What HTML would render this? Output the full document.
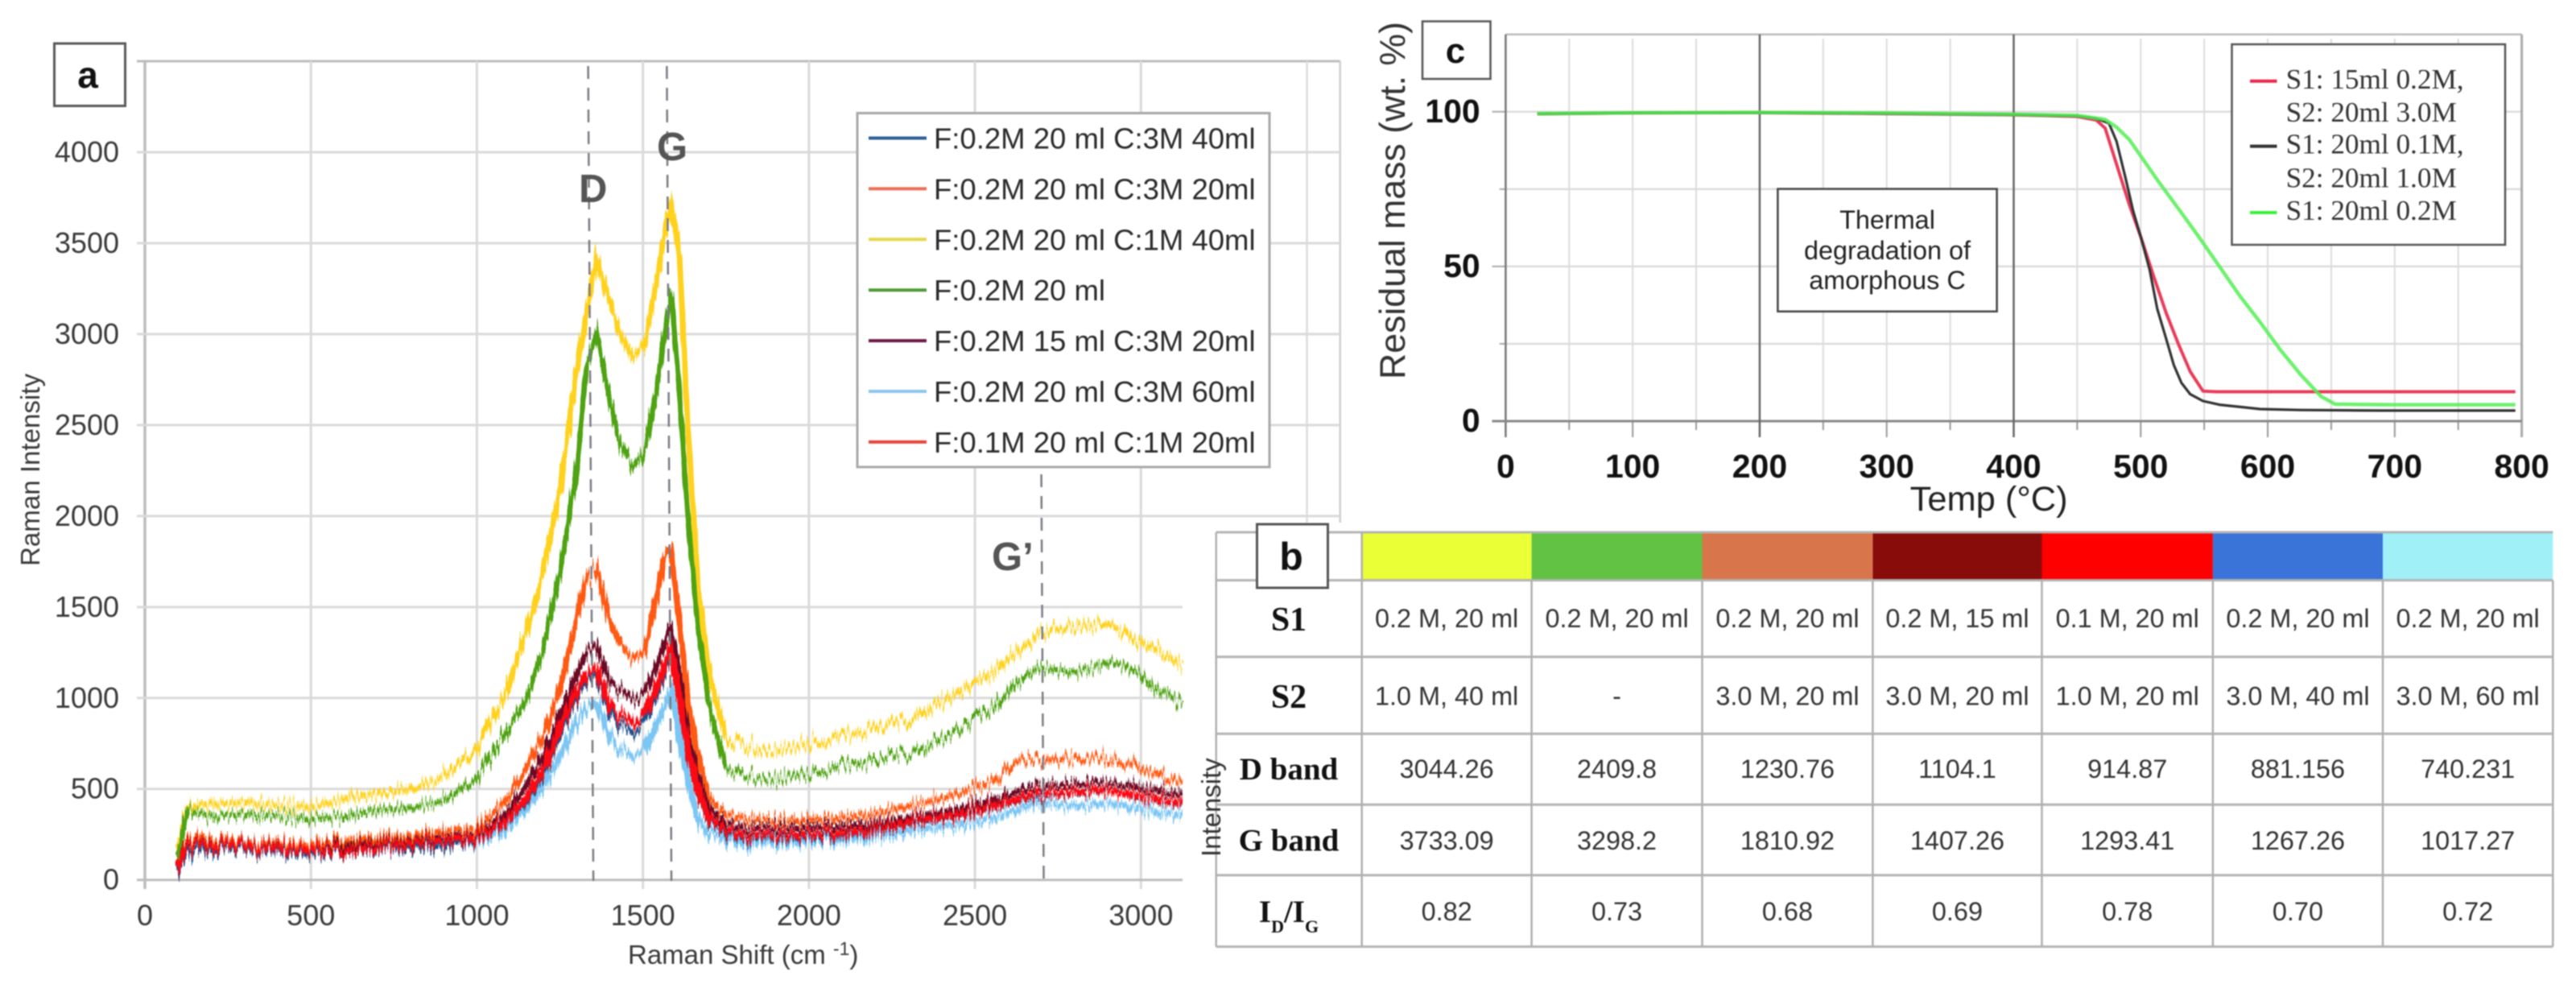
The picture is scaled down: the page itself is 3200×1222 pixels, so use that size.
<!DOCTYPE html>
<html lang="en">
<head>
<meta charset="utf-8">
<title>Raman spectra, band table and TGA curves</title>
<style>
  html, body { margin: 0; padding: 0; background: #fff; }
  body { width: 3200px; height: 1222px; overflow: hidden; }
  #figure { display: block; filter: blur(0.8px); }
  text { font-family: "Liberation Sans", Arial, sans-serif; }
  .serif { font-family: "Liberation Serif", "Times New Roman", serif; }
</style>
</head>
<body>
<svg id="figure" xmlns="http://www.w3.org/2000/svg" width="3200" height="1222" viewBox="0 0 3200 1222">
  <defs>
    <filter id="raman-noise" filterUnits="userSpaceOnUse" x="100" y="60" width="1450" height="1060" color-interpolation-filters="sRGB">
      <feTurbulence type="fractalNoise" baseFrequency="0.42 0.006" numOctaves="2" seed="7" result="n"/>
      <feColorMatrix in="n" type="matrix" values="0 0 0 0 0.5  0 1 0 0 0  0 0 1 0 0  0 0 0 0 1" result="vn"/>
      <feDisplacementMap in="SourceGraphic" in2="vn" scale="40" xChannelSelector="R" yChannelSelector="G"/>
    </filter>
  </defs>
  <rect width="3200" height="1222" fill="#fff"/>
  <g id="panel-a"></g>
  <g id="panel-c"></g>
  <g id="panel-b"></g>
</svg>
<script>
/* ---------- Panel a: Raman spectra ---------- */
const ramanShift = [100,115,130,160,200,300,400,500,600,700,800,900,1000,1085,1150,1200,1250,1300,1330,1360,1400,1430,1470,1505,1540,1565,1585,1610,1635,1665,1700,1750,1800,1900,2035,2185,2310,2430,2555,2620,2690,2740,2800,2865,2900,2940,2990,3050,3125];
const intensityLightBlue = [65,130,170,190,205,215,185,165,175,190,195,190,215,270,395,510,680,870,950,980,790,725,690,700,860,960,1040,780,550,335,260,215,205,200,220,235,265,295,340,380,425,415,405,415,420,410,395,375,355];
const intensityDarkBlue = [50,120,150,160,165,175,150,145,155,170,170,170,225,310,430,570,800,1000,1100,1120,920,860,810,860,1020,1130,1240,970,690,470,320,250,235,230,240,265,305,340,395,430,460,470,475,485,490,475,450,435,415];
const intensityOrange = [90,170,220,235,225,210,200,195,225,235,240,260,285,430,615,790,1050,1430,1650,1710,1420,1300,1215,1255,1530,1785,1820,1420,1000,660,445,360,340,325,335,360,410,460,540,645,660,665,670,680,670,650,615,575,535];
const intensityYellow = [170,300,400,410,415,425,410,400,445,470,495,570,715,1010,1380,1700,2140,2800,3130,3410,3180,3030,2880,2950,3270,3560,3720,3440,2500,1650,1130,780,735,710,760,820,890,1010,1140,1245,1345,1375,1385,1405,1400,1375,1305,1260,1180];
const intensityGreen = [130,280,385,365,350,360,350,335,350,385,395,435,555,800,1000,1270,1680,2250,2830,3000,2640,2400,2270,2360,2680,3000,3230,2680,2000,1420,950,620,575,550,597,650,700,805,940,1075,1165,1155,1140,1170,1195,1185,1140,1045,975];
const intensityMaroon = [70,170,200,205,200,195,180,170,195,205,210,225,250,360,520,680,905,1130,1250,1290,1090,1050,990,1030,1170,1290,1380,1130,800,545,390,310,290,285,295,310,345,380,440,480,520,525,530,540,540,525,505,490,470];
const intensityRed = [75,160,190,195,190,195,170,170,165,185,195,205,235,320,450,600,840,1040,1130,1160,960,910,865,905,1060,1170,1260,1000,720,490,340,270,250,245,255,275,320,350,405,440,475,480,485,495,495,480,460,445,425];
const ramanXTicks = [0,500,1000,1500,2000,2500,3000];
const ramanYTicks = [0,500,1000,1500,2000,2500,3000,3500,4000];
const ramanLegendLabels = ["F:0.2M 20 ml C:3M 40ml","F:0.2M 20 ml C:3M 20ml","F:0.2M 20 ml C:1M 40ml","F:0.2M 20 ml","F:0.2M 15 ml C:3M 20ml","F:0.2M 20 ml C:3M 60ml","F:0.1M 20 ml C:1M 20ml"];
const ramanPeaks = [1335,1572,2700];

/* ---------- Panel c: TGA curves ---------- */
const tempRed = [25,100,200,300,400,450,465,472,481,491,500,510,520,530,539,549,560,650,795];
const massRed = [99.3,99.6,99.7,99.4,99,98.5,97.3,94.7,83,70,59.6,47,35,24.6,16,9.7,9.5,9.5,9.5];
const tempBlack = [25,100,200,300,400,450,465,475,481,488,494,500,507,513,520,526,532,539,549,562,594,626,690,795];
const massBlack = [99.3,99.6,99.7,99.4,99,98.6,97.8,96.3,90.4,78.7,68,59.6,49,36.3,26.7,18.2,12.4,8.7,6.5,5.3,3.9,3.6,3.4,3.4];
const tempGreen = [25,100,200,300,400,450,472,481,491,500,513,530,545,562,578,594,610,626,642,653,700,795];
const massGreen = [99.4,99.7,99.8,99.6,99.2,98.8,97.5,95,91,85.7,78,68.5,60,50,40.5,32,23,15,8,5.5,5.3,5.3];
const tempMajorTicks = [0,100,200,300,400,500,600,700,800];
const tempMinorTicks = [50,150,250,350,450,550,650,750];
const massMajorTicks = [0,50,100];
const massMinorTicks = [25,75];
const tgaLegendLines = ["S1: 15ml 0.2M,","S2: 20ml 3.0M","S1: 20ml 0.1M,","S2: 20ml 1.0M","S1: 20ml 0.2M"];

/* ---------- Panel b: band table ---------- */
const tableRowHeads = ["S1","S2","D band","G band"];
const tableS1 = ["0.2 M, 20 ml","0.2 M, 20 ml","0.2 M, 20 ml","0.2 M, 15 ml","0.1 M, 20 ml","0.2 M, 20 ml","0.2 M, 20 ml"];
const tableS2 = ["1.0 M, 40 ml","-","3.0 M, 20 ml","3.0 M, 20 ml","1.0 M, 20 ml","3.0 M, 40 ml","3.0 M, 60 ml"];
const tableDBand = ["3044.26","2409.8","1230.76","1104.1","914.87","881.156","740.231"];
const tableGBand = ["3733.09","3298.2","1810.92","1407.26","1293.41","1267.26","1017.27"];
const tableRatio = ["0.82","0.73","0.68","0.69","0.78","0.70","0.72"];
const tableSwatches = ["#eaff36","#62c244","#d9754a","#870c0a","#fe0000","#3a74d8","#a0f0f8"];

/* ---------- helpers ---------- */
const NS = "http://www.w3.org/2000/svg";
function mk(parent, tag, name, attrs, content) {
  const el = document.createElementNS(NS, tag);
  
  
  for (const k in attrs) el.setAttribute(k, attrs[k]);
  if (content !== undefined) el.textContent = content;
  parent.appendChild(el);
  return el;
}
function line(p, name, x1, y1, x2, y2, stroke, w, dash) {
  const a = {x1:x1, y1:y1, x2:x2, y2:y2, stroke:stroke, 'stroke-width':w};
  if (dash) a['stroke-dasharray'] = dash;
  return mk(p, 'line', name, a);
}
function polyPath(xs, ys, fx, fy) {
  return xs.map((v, i) => (i ? 'L' : 'M') + fx(v).toFixed(1) + ' ' + fy(ys[i]).toFixed(1)).join(' ');
}
function scale(d0, d1, r0, r1) { return v => r0 + (v - d0) * (r1 - r0) / (d1 - d0); }

/* ---------- draw panel a ---------- */
(function () {
  const g = document.getElementById('panel-a');
  const x = scale(0, 3000, 180, 1417.3);
  const y = scale(0, 4000, 1092.7, 189);
  const topY = y(4500), rightFull = x(3600), rightLow = 1469;

  mk(g, 'line', 'plot-top-border', {x1:170, y1:topY, x2:rightFull, y2:topY, stroke:'#bcbcbc', 'stroke-width':3});
  line(g, 'x-grid-3500', x(3500), topY, x(3500), 649, '#dcdcdc', 2.5);
  line(g, 'x-grid-3600', x(3600), topY, x(3600), 649, '#cfcfcf', 2.5);

  ramanXTicks.forEach(t => {
    line(g, 'x-grid-' + t, x(t), topY, x(t), 1104, t === 0 ? '#bdbdbd' : '#dadada', t === 0 ? 3.5 : 3);
    mk(g, 'text', 'x-tick-label-' + t, {x:x(t), y:1149, 'text-anchor':'middle', 'font-size':36, fill:'#3a3a3a'}, String(t));
  });
  ramanYTicks.forEach(t => {
    const right = t >= 2000 ? rightFull : rightLow;
    line(g, 'y-grid-' + t, 170, y(t), right, y(t), t === 0 ? '#bdbdbd' : '#dadada', 3);
    mk(g, 'text', 'y-tick-label-' + t, {x:148, y:y(t) + 12, 'text-anchor':'end', 'font-size':36, fill:'#3a3a3a'}, String(t));
  });

  const noise = mk(g, 'g', 'raman-series', {filter:'url(#raman-noise)', fill:'none', 'stroke-linejoin':'miter', 'stroke-miterlimit':6});
  const ramanSeries = [
    ['series-light-blue', intensityLightBlue, '#7cc6f4', 8],
    ['series-dark-blue', intensityDarkBlue, '#1f4e8c', 6],
    ['series-orange', intensityOrange, '#ff5a14', 7],
    ['series-yellow', intensityYellow, '#ffd21f', 7],
    ['series-green', intensityGreen, '#4fa313', 6.5],
    ['series-maroon', intensityMaroon, '#6b0a24', 7],
    ['series-red', intensityRed, '#fb0a14', 8.5]
  ];
  ramanSeries.forEach(s => {
    mk(noise, 'path', s[0], {d:polyPath(ramanShift, s[1], x, y), stroke:s[2], 'stroke-width':s[3]});
  });

  const dashTop = [82, 82, 589];
  const dashBottom = [1094, 1094, 1094];
  const dashDrift = [6.5, 5.7, 3];
  ramanPeaks.forEach((p, i) => {
    line(g, 'peak-guide-' + i, x(p), dashTop[i], x(p) + dashDrift[i], dashBottom[i], '#7b7b85', 2.5, '16 11');
  });
  mk(g, 'text', 'peak-label-d', {x:719, y:251, 'font-size':49, 'font-weight':700, fill:'#555'}, 'D');
  mk(g, 'text', 'peak-label-g', {x:816, y:199, 'font-size':49, 'font-weight':700, fill:'#555'}, 'G');
  mk(g, 'text', 'peak-label-g-prime', {x:1232, y:708, 'font-size':49, 'font-weight':700, fill:'#555'}, 'G\u2019');

  mk(g, 'rect', 'raman-legend-box', {x:1065, y:140.5, width:512, height:439.5, fill:'#fff', stroke:'#a8a8a8', 'stroke-width':3});
  const legendColors = ['#2d5f95','#e8705a','#e6d84a','#4f9a35','#6a1b45','#8cc6ea','#e8443a'];
  ramanLegendLabels.forEach((lab, i) => {
    const ly = 171.5 + i * 62.9;
    line(g, 'raman-legend-swatch-' + i, 1079, ly, 1151, ly, legendColors[i], 4);
    const a = {x:1160, y:ly + 13, 'font-size':36.5, fill:'#2a2a2a'};
    mk(g, 'text', 'raman-legend-label-' + i, a, lab);
  });

  mk(g, 'rect', 'panel-a-tag-box', {x:67.5, y:54, width:88, height:77.5, fill:'#fff', stroke:'#5a5a5a', 'stroke-width':3});
  mk(g, 'text', 'panel-a-tag', {x:109, y:109, 'text-anchor':'middle', 'font-size':46, 'font-weight':700, fill:'#111'}, 'a');

  mk(g, 'text', 'y-axis-title', {transform:'translate(49,703) rotate(-90)', 'font-size':33, textLength:239, lengthAdjust:'spacingAndGlyphs', fill:'#3a3a3a'}, 'Raman Intensity');
  const xt = mk(g, 'text', 'x-axis-title', {x:780, y:1197, 'font-size':33, fill:'#3a3a3a'}, 'Raman Shift (cm ');
  const sup = document.createElementNS(NS, 'tspan');
  sup.setAttribute('font-size', '23');
  sup.setAttribute('dy', '-11');
  sup.textContent = '-1';
  xt.appendChild(sup);
  const close = document.createElementNS(NS, 'tspan');
  close.setAttribute('dy', '11');
  close.textContent = ')';
  xt.appendChild(close);
})();

/* ---------- draw panel c ---------- */
(function () {
  const g = document.getElementById('panel-c');
  const x = scale(0, 800, 1870.4, 3132.6);
  const y = scale(0, 100, 523, 138.8);
  const topY = y(125);

  line(g, 'tga-top-border', x(0), topY, x(800), topY, '#bdbdbd', 2.5);
  [25,50,75,100].forEach(t => line(g, 'tga-h-grid-' + t, x(0), y(t), x(800), y(t), '#dcdcdc', 2.5));
  tempMinorTicks.concat(tempMajorTicks.slice(1, 8)).forEach(t => {
    if (t === 200 || t === 400) return;
    line(g, 'tga-v-grid-' + t, x(t), 48, x(t), y(0), '#dcdcdc', 2);
  });
  tempMinorTicks.forEach(t => line(g, 'tga-x-minor-tick-' + t, x(t), y(0), x(t), 534, '#999', 2));
  tempMajorTicks.forEach(t => {
    line(g, 'tga-x-major-tick-' + t, x(t), y(0), x(t), 543, '#999', 2);
    mk(g, 'text', 'tga-x-tick-label-' + t, {x:x(t), y:593, 'text-anchor':'middle', 'font-size':41, 'font-weight':700, fill:'#111'}, String(t));
  });
  massMinorTicks.forEach(t => line(g, 'tga-y-minor-tick-' + t, 1862.7, y(t), x(0), y(t), '#aaa', 2));
  massMajorTicks.forEach(t => {
    line(g, 'tga-y-major-tick-' + t, 1853.5, y(t), x(0), y(t), '#aaa', 2);
    mk(g, 'text', 'tga-y-tick-label-' + t, {x:1838.7, y:y(t) + 13, 'text-anchor':'end', 'font-size':41, 'font-weight':700, fill:'#111'}, String(t));
  });
  line(g, 'tga-y-axis', x(0), topY, x(0), 543, '#777', 2.5);
  line(g, 'tga-right-border', x(800), topY, x(800), 543, '#aaa', 3);
  line(g, 'tga-x-axis', 1853.5, y(0), x(800), y(0), '#888', 3);
  line(g, 'tga-marker-200', x(200), topY, x(200), 543, '#666', 2.5);
  line(g, 'tga-marker-400', x(400), topY, x(400), 543, '#666', 2.5);

  mk(g, 'path', 'tga-series-red', {d:polyPath(tempRed, massRed, x, y), fill:'none', stroke:'#e83c5a', 'stroke-width':4, 'stroke-linejoin':'round'});
  mk(g, 'path', 'tga-series-black', {d:polyPath(tempBlack, massBlack, x, y), fill:'none', stroke:'#333', 'stroke-width':3.2, 'stroke-linejoin':'round'});
  mk(g, 'path', 'tga-series-green', {d:polyPath(tempGreen, massGreen, x, y), fill:'none', stroke:'#55ee55', 'stroke-width':4.5, 'stroke-linejoin':'round', opacity:0.85});

  mk(g, 'rect', 'thermal-note-box', {x:2208.4, y:234.6, width:272.2, height:152.2, fill:'#fff', stroke:'#444', 'stroke-width':2.5});
  const noteLines = ['Thermal','degradation of','amorphous C'];
  const noteBase = [284, 322, 359];
  noteLines.forEach((t, i) => {
    mk(g, 'text', 'thermal-note-line-' + i, {x:2344.5, y:noteBase[i], 'text-anchor':'middle', 'font-size':32.4, fill:'#222'}, t);
  });

  mk(g, 'rect', 'tga-legend-box', {x:2772.5, y:55, width:339.5, height:249, fill:'#fff', stroke:'#555', 'stroke-width':2.5});
  const tgaLegendBase = [110, 151, 190.5, 232.6, 273];
  tgaLegendLines.forEach((t, i) => {
    mk(g, 'text', 'tga-legend-label-' + i, {x:2839.6, y:tgaLegendBase[i], class:'serif', 'font-size':35.2, fill:'#333'}, t);
  });
  line(g, 'tga-legend-swatch-red', 2795, 100.8, 2828.5, 100.8, '#e8284a', 4);
  line(g, 'tga-legend-swatch-black', 2795, 181.6, 2828.5, 181.6, '#333', 4);
  line(g, 'tga-legend-swatch-green', 2795, 264, 2828.5, 264, '#3df03d', 4);

  mk(g, 'rect', 'panel-c-tag-box', {x:1767, y:26.5, width:84.5, height:71.5, fill:'#fff', stroke:'#555', 'stroke-width':2.5});
  mk(g, 'text', 'panel-c-tag', {x:1808, y:78, 'text-anchor':'middle', 'font-size':44, 'font-weight':700, fill:'#111'}, 'c');

  mk(g, 'text', 'tga-y-axis-title', {transform:'translate(1745,471) rotate(-90)', 'font-size':44.6, textLength:444, lengthAdjust:'spacingAndGlyphs', fill:'#333'}, 'Residual mass (wt. %)');
  mk(g, 'text', 'tga-x-axis-title', {x:2372.6, y:634, 'font-size':42.4, textLength:196, lengthAdjust:'spacingAndGlyphs', fill:'#222'}, 'Temp (\u00B0C)');
})();

/* ---------- draw panel b ---------- */
(function () {
  const g = document.getElementById('panel-b');
  const colX = [1510.7,1691.7,1902.6,2114.5,2326.4,2536.5,2748.9,2960,3171.3];
  const rowY = [661,720.6,815.8,911.3,999.3,1086.9,1175.6];
  const cellBase = [779,875.4,966,1054.8,1142.8];
  const headBase = [783,879,968,1056.7];
  const rowsData = [tableS1, tableS2, tableDBand, tableGBand, tableRatio];

  tableSwatches.forEach((c, i) => {
    mk(g, 'rect', 'table-swatch-' + i, {x:colX[i + 1], y:rowY[0], width:colX[i + 2] - colX[i + 1], height:rowY[1] - rowY[0], fill:c});
  });
  rowY.forEach((v, i) => line(g, 'table-row-line-' + i, colX[0], v, colX[8], v, '#b4b4b4', 3));
  colX.forEach((v, i) => line(g, 'table-col-line-' + i, v, rowY[i > 1 ? 1 : 0], v, rowY[6], '#b0b0b0', 2.5));

  rowsData.forEach((row, r) => {
    row.forEach((val, c) => {
      mk(g, 'text', 'table-cell-' + r + '-' + c, {x:(colX[c + 1] + colX[c + 2]) / 2, y:cellBase[r], 'text-anchor':'middle', 'font-size':32.4, fill:'#333'}, val);
    });
  });
  tableRowHeads.forEach((t, i) => {
    mk(g, 'text', 'table-row-head-' + i, {x:1601, y:headBase[i], 'text-anchor':'middle', class:'serif', 'font-size':i < 2 ? 42 : 39, 'font-weight':700, fill:'#111'}, t);
  });
  const ratio = mk(g, 'text', 'table-row-head-ratio', {x:1601, y:1145, 'text-anchor':'middle', class:'serif', 'font-size':39, 'font-weight':700, fill:'#111'}, 'I');
  [['D', 22, 13], ['/I', 39, -13], ['G', 22, 13]].forEach(part => {
    const ts = document.createElementNS(NS, 'tspan');
    ts.setAttribute('font-size', part[1]);
    ts.setAttribute('dy', part[2]);
    ts.textContent = part[0];
    ratio.appendChild(ts);
  });

  mk(g, 'text', 'table-intensity-label', {transform:'translate(1516,1064) rotate(-90)', 'font-size':33, textLength:122.7, lengthAdjust:'spacingAndGlyphs', fill:'#333'}, 'Intensity');

  mk(g, 'rect', 'panel-b-tag-box', {x:1561.5, y:651, width:88, height:79, fill:'#fff', stroke:'#555', 'stroke-width':3});
  mk(g, 'text', 'panel-b-tag', {x:1604, y:707.5, 'text-anchor':'middle', 'font-size':48, 'font-weight':700, fill:'#111'}, 'b');
})();
</script>
</body>
</html>
